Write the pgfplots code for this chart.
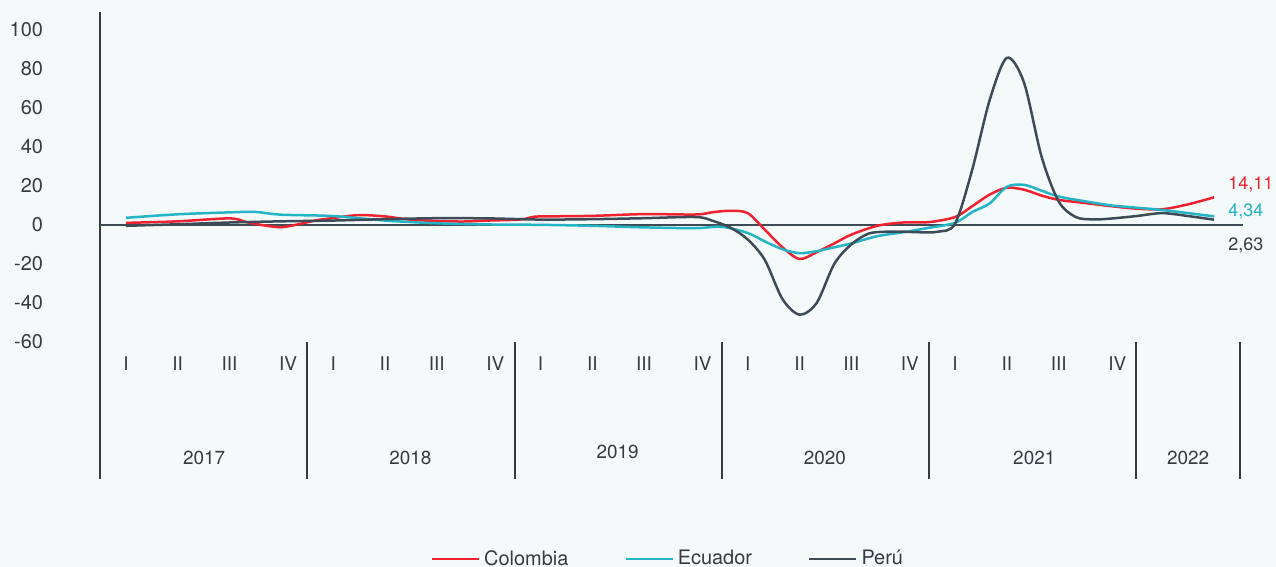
\documentclass[border=0pt]{standalone}
\usepackage{fontspec}
\setmainfont{TeX Gyre Heros}
\usepackage{pgfplots}
\pgfplotsset{compat=1.18}
\usepackage{xcolor}
\definecolor{cCol}{HTML}{EE2231}
\definecolor{cEcu}{HTML}{25B4C4}
\definecolor{cPer}{HTML}{3E4B57}
\definecolor{cInk}{HTML}{363B40}
\definecolor{cBg}{HTML}{F4FAFA}

\begin{document}
\begin{tikzpicture}
% page = 1276 x 567 px at 2 px per bp
\fill[cBg] (-50bp,-112.5bp) rectangle (588bp,171bp);
\begin{axis}[
  at={(0,0)}, anchor=south west,
  scale only axis, width=570bp, height=165bp,
  xmin=-0.5, xmax=21.5, ymin=-60, ymax=109,
  axis line style={draw=none}, tick style={draw=none},
  xtick=\empty,
  ytick={-60,-40,-20,0,20,40,60,80,100},
  yticklabels={-60,-40,-20,0,20,40,60,80,100},
  yticklabel style={font=\fontsize{10}{12}\selectfont, color=cInk, anchor=east, xshift=-25bp},
  clip=false,
  every axis plot/.append style={line width=1.25bp, smooth, no marks},
  legend style={at={(0.499,-0.658)}, anchor=center, legend columns=3, draw=none, fill=none,
    font=\fontsize{10}{12}\selectfont, text=cInk,
    /tikz/every even column/.append style={column sep=26bp}},
  legend image code/.code={\draw[#1, line width=1.25bp] (0bp,0bp) -- (23.5bp,0bp);},
]
% axis and zero line
\draw[cInk, line width=1bp] (axis cs:-0.5,109) -- (axis cs:-0.5,-130.4);
\draw[cPer, line width=1bp] (axis cs:-0.5,0) -- (axis cs:21.56,0);
% year separators
\draw[cInk, line width=1bp] (axis cs:3.5,-60) -- (axis cs:3.5,-130.4);
\draw[cInk, line width=1bp] (axis cs:7.5,-60) -- (axis cs:7.5,-130.4);
\draw[cInk, line width=1bp] (axis cs:11.5,-60) -- (axis cs:11.5,-130.4);
\draw[cInk, line width=1bp] (axis cs:15.5,-60) -- (axis cs:15.5,-130.4);
\draw[cInk, line width=1bp] (axis cs:19.5,-60) -- (axis cs:19.5,-130.4);
\draw[cInk, line width=1bp] (axis cs:21.5,-60) -- (axis cs:21.5,-130.4);

\addplot[cCol] coordinates {(0,1.0)(1,1.8)(2,3.3)(2.33,1.4)(2.67,-0.3)(3,-1.2)(3.33,0.3)(3.67,2.3)(4,3.5)(4.5,5.0)(5,4.3)(5.5,2.6)(6,2.0)(6.5,1.7)(7,2.2)(7.6,2.7)(7.85,4.0)(8,4.3)(9,4.6)(10,5.5)(11,5.3)(11.33,6.5)(11.67,7.2)(12,6.0)(12.33,-2.5)(12.67,-11.5)(13,-17.5)(13.33,-14)(13.67,-9.5)(14,-5)(14.5,-0.5)(15,1.2)(15.5,1.4)(16,4)(16.33,9.5)(16.67,15.5)(17,19)(17.33,18)(17.67,15)(18,12.8)(18.5,11.2)(19,9.6)(19.5,8.3)(20,8)(20.5,10.5)(21,14.11)};
\addlegendentry{Colombia}
\addplot[cEcu] coordinates {(0,3.6)(1,5.4)(2,6.4)(2.5,6.6)(3,5.2)(4,4.5)(5,2.2)(6,0.8)(7,0.2)(8,0)(9,-0.5)(10,-1.3)(11,-1.7)(11.5,-1.0)(12,-4.2)(12.33,-8.5)(12.67,-12.5)(13,-14.5)(13.33,-13.5)(13.67,-11.5)(14,-9.5)(14.5,-5.8)(15,-3.8)(15.5,-1.5)(16,1)(16.33,6.5)(16.67,11)(17,19.5)(17.33,20.5)(17.67,17.5)(18,14.5)(18.5,12.1)(19,10)(19.5,8.8)(20,7.6)(20.5,6)(21,4.34)};
\addlegendentry{Ecuador}
\addplot[cPer] coordinates {(0,-0.5)(1,0.3)(2,1.2)(3,1.8)(4,2.2)(5,2.9)(6,3.4)(7,3.3)(8,2.7)(9,2.9)(10,3.4)(11,4.0)(11.33,2.0)(11.67,-1.5)(12,-7.5)(12.33,-18)(12.67,-38)(13,-46)(13.33,-40)(13.67,-20)(14,-10)(14.33,-4.5)(14.67,-3.5)(15,-3.5)(15.33,-3.8)(15.67,-3.5)(16,0.5)(16.33,28)(16.67,64)(17,85.5)(17.33,73)(17.67,35)(18,12)(18.33,4)(18.67,2.8)(19,3.2)(19.5,4.5)(20,6)(20.5,4.5)(21,2.63)};
\addlegendentry{Perú}

% end-value labels
\begin{scope}[every node/.style={anchor=west, inner sep=0pt, font=\fontsize{9}{11}\selectfont}]
\node[text=cCol] at (axis cs:21.27,20.5) {14,11};
\node[text=cEcu] at (axis cs:21.27,6.6) {4,34};
\node[text=cInk] at (axis cs:21.27,-10.7) {2,63};
\end{scope}

% quarter labels
\begin{scope}[every node/.style={font=\fontsize{9.5}{11}\selectfont, text=cInk}]
\node at (axis cs:0,-71.1) {I};    \node at (axis cs:1,-71.1) {II};
\node at (axis cs:2,-71.1) {III};  \node at (axis cs:3.13,-71.1) {IV};
\node at (axis cs:4,-71.1) {I};    \node at (axis cs:5,-71.1) {II};
\node at (axis cs:6,-71.1) {III};  \node at (axis cs:7.13,-71.1) {IV};
\node at (axis cs:8,-71.1) {I};    \node at (axis cs:9,-71.1) {II};
\node at (axis cs:10,-71.1) {III}; \node at (axis cs:11.13,-71.1) {IV};
\node at (axis cs:12,-71.1) {I};   \node at (axis cs:13,-71.1) {II};
\node at (axis cs:14,-71.1) {III}; \node at (axis cs:15.13,-71.1) {IV};
\node at (axis cs:16,-71.1) {I};   \node at (axis cs:17,-71.1) {II};
\node at (axis cs:18,-71.1) {III}; \node at (axis cs:19.13,-71.1) {IV};
% year labels
\node at (axis cs:1.51,-119.2) {2017};
\node at (axis cs:5.49,-119.2) {2018};
\node at (axis cs:9.49,-116.2) {2019};
\node at (axis cs:13.49,-119.2) {2020};
\node at (axis cs:17.53,-119.2) {2021};
\node at (axis cs:20.5,-119.2) {2022};
\end{scope}
\end{axis}
\pgfresetboundingbox
\useasboundingbox (-50bp,-112.5bp) rectangle (588bp,171bp);
\end{tikzpicture}
\end{document}
